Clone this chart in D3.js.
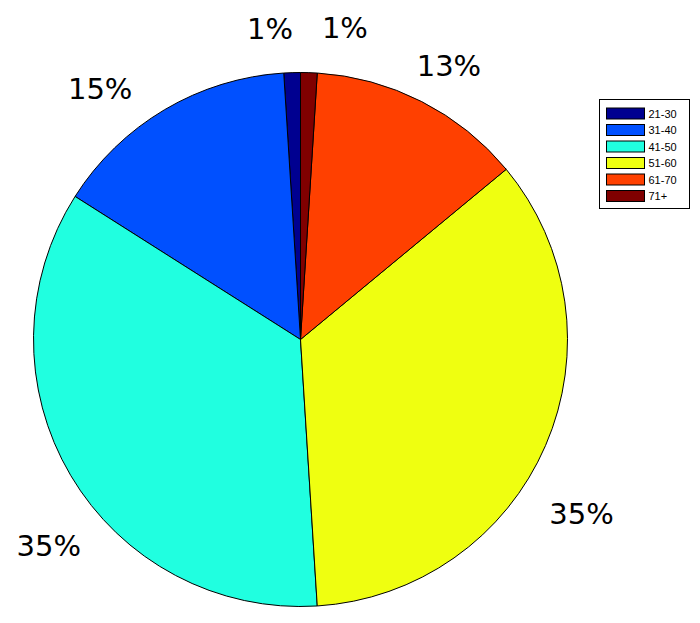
<!DOCTYPE html>
<html>
<head>
<meta charset="utf-8">
<script src="https://cdn.jsdelivr.net/npm/d3@7"></script>
<style>
  html, body { margin: 0; padding: 0; background: #fff; }
  svg { display: block; }
</style>
</head>
<body>
<svg id="chart" width="700" height="623"></svg>
<script>
// ---- data ----
const categories = ["21-30", "31-40", "41-50", "51-60", "61-70", "71+"];
const values = [1, 15, 35, 35, 13, 1];
const labels = ["1%", "15%", "35%", "35%", "13%", "1%"];
const colors = ["#000090", "#0050FF", "#20FFE0", "#EFFF10", "#FF4000", "#800000"];

// ---- layout (label placement: angle ccw from 12 o'clock in degrees, radius fraction) ----
const labelAngle = [5.6, 38.7, 129.4, 238.1, 331.5, 351.9];
const labelRadius = [1.17, 1.20, 1.22, 1.24, 1.165, 1.18];

const svg = d3.select("#chart");
const cx = 300.5, cy = 339.5, R = 267;

const pie = d3.pie().sort(null).value(d => d).startAngle(0).endAngle(-2 * Math.PI);
const arcs = pie(values);
const arc = d3.arc().innerRadius(0).outerRadius(R);

const g = svg.append("g").attr("transform", `translate(${cx},${cy})`);
g.selectAll("path.slice")
  .data(arcs)
  .enter().append("path")
  .attr("class", "slice")
  .attr("d", arc)
  .attr("fill", (d, i) => colors[i])
  .attr("stroke", "#000")
  .attr("stroke-width", 1)
  .attr("stroke-linejoin", "round");

g.selectAll("text.lbl")
  .data(labels)
  .enter().append("text")
  .attr("class", "lbl")
  .attr("x", (d, i) => -R * labelRadius[i] * Math.sin(labelAngle[i] * Math.PI / 180))
  .attr("y", (d, i) => -R * labelRadius[i] * Math.cos(labelAngle[i] * Math.PI / 180))
  .attr("text-anchor", "middle")
  .attr("dominant-baseline", "central")
  .attr("font-family", "DejaVu Sans, sans-serif")
  .attr("font-size", 29)
  .attr("fill", "#000")
  .text(d => d);

// ---- legend ----
const lg = svg.append("g").attr("transform", "translate(599.5,99.5)");
lg.append("rect")
  .attr("width", 90).attr("height", 109)
  .attr("fill", "#fff").attr("stroke", "#000").attr("stroke-width", 1);
const rowY = d3.scalePoint().domain(categories).range([14, 96.5]);
const items = lg.selectAll("g.item").data(categories).enter().append("g")
  .attr("class", "item")
  .attr("transform", d => `translate(0,${rowY(d)})`);
items.append("rect")
  .attr("x", 7).attr("y", -5.5).attr("width", 38).attr("height", 11)
  .attr("fill", (d, i) => colors[i])
  .attr("stroke", "#000").attr("stroke-width", 1);
items.append("text")
  .attr("x", 49).attr("y", 0)
  .attr("dominant-baseline", "central")
  .attr("font-family", "Liberation Sans, Arial, sans-serif")
  .attr("font-size", 11)
  .attr("fill", "#000")
  .text(d => d);
</script>
</body>
</html>
